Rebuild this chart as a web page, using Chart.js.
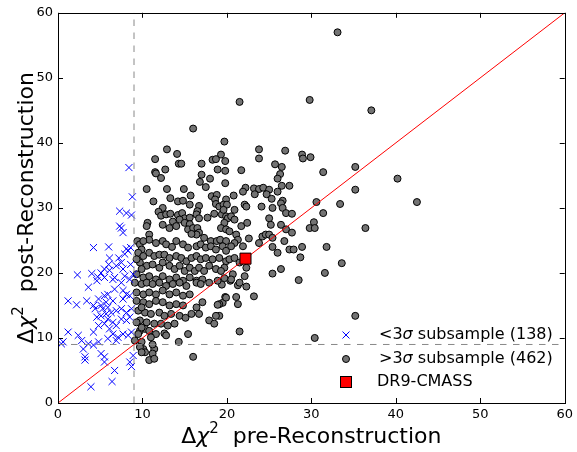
<!DOCTYPE html>
<html>
<head>
<meta charset="utf-8">
<script src="https://cdn.jsdelivr.net/npm/chart.js"></script>
<style>
  html, body { margin: 0; padding: 0; background: #fff; }
</style>
</head>
<body>
<canvas id="myChart" width="577" height="452"></canvas>
<script>
// axis ticks
const axisTicks = [0, 10, 20, 30, 40, 50, 60];
const oneToOne = [0, 60];
const cut = 9;

// <3 sigma subsample (pre, post)
const lowSigma = [
  [8.4,36.2],[8.8,31.7],[7.3,29.5],[8.1,29.2],[8.7,28.9],[7.3,27.2],[7.5,26.9],[7.7,26.2],
  [4.2,23.9],[6.0,24.0],[8.1,23.7],[8.6,23.9],[6.1,22.3],[7.2,22.3],[7.9,22.9],[8.3,23.4],
  [7.5,21.6],[6.0,21.3],[6.9,21.1],[8.6,21.3],[5.5,20.6],[5.1,20.0],[6.1,20.4],[2.3,19.7],
  [4.0,19.9],[4.7,19.4],[6.7,19.3],[7.7,20.6],[7.9,19.5],[8.9,19.8],[8.5,19.0],[4.6,18.8],
  [5.5,19.3],[6.5,19.0],[7.5,18.5],[3.6,17.8],[6.7,17.5],[7.7,17.3],[8.1,16.7],[1.2,15.7],
  [2.2,15.1],[3.4,15.7],[4.2,15.0],[4.8,16.0],[5.5,16.5],[5.9,16.7],[5.7,15.5],[5.1,15.0],
  [6.5,15.7],[7.7,16.0],[8.5,16.5],[4.4,14.5],[5.3,14.5],[5.9,14.7],[6.3,13.9],[6.9,14.2],
  [7.5,14.5],[8.1,13.9],[8.7,14.5],[5.7,13.7],[5.1,13.4],[4.6,13.2],[5.9,12.9],[6.5,12.4],
  [7.5,12.9],[8.1,12.7],[8.5,13.2],[6.9,11.9],[6.1,11.4],[5.5,12.2],[4.8,11.9],[4.2,10.9],
  [6.5,10.6],[7.1,10.1],[7.7,10.6],[8.3,10.4],[8.7,10.9],[6.9,9.6],[5.9,9.9],[1.2,10.9],
  [0.6,9.4],[2.4,10.4],[2.8,9.6],[3.6,9.1],[3.0,8.3],[4.2,8.9],[4.8,9.4],[3.2,7.1],
  [3.2,6.6],[5.1,7.6],[5.5,7.1],[5.5,6.3],[8.9,7.3],[8.5,6.3],[8.7,5.6],[6.7,5.0],
  [6.4,3.3],[3.9,2.5],[0.4,9.1]
];

// >3 sigma subsample (pre, post)
const highSigma = [
  [33.1,57.0],[29.8,46.6],[37.1,45.0],[28.9,38.2],[29.0,37.6],[29.9,37.8],[35.2,36.3],[31.4,35.5],
  [40.2,34.5],[35.2,32.8],[30.6,30.9],[33.4,30.6],[42.5,30.9],[31.4,29.2],[30.3,27.8],[29.8,26.9],
  [30.4,26.9],[36.4,26.9],[28.9,24.0],[31.8,24.0],[28.7,22.4],[33.6,21.5],[28.5,18.9],[31.6,20.0],
  [35.2,13.4],
  [19.4,18.2],[20.4,18.8],[21.3,18.1],[22.3,17.9],[19.8,16.3],[19.5,15.4],[19.1,15.2],[21.1,16.3],
  [21.3,15.2],[23.2,16.4],[19.1,13.4],[21.5,11.0],[30.4,10.0],
  [21.5,46.3],[19.7,40.2],[19.3,38.2],[19.8,37.2],[19.8,35.7],[19.8,33.8],[21.7,35.8],[23.8,39.0],
  [23.8,37.6],[26.9,38.8],[25.7,36.7],[26.5,36.3],[26.3,35.2],[26.0,34.5],[26.5,33.4],[27.4,33.4],
  [22.2,33.1],[21.9,32.5],[23.2,33.0],[23.8,32.9],[24.3,33.1],[25.0,32.8],[23.3,32.1],[24.7,32.1],
  [26.0,32.5],[20.8,31.9],[19.9,31.3],[25.3,31.4],[26.6,31.1],
  [16.0,42.2],[12.9,39.0],[14.1,38.3],[11.5,37.5],[14.3,36.8],[14.6,36.8],[17.0,36.8],[18.3,37.4],
  [18.7,37.5],[12.7,35.9],[11.5,35.5],[11.6,35.3],[12.2,34.6],[18.9,35.9],[17.0,35.1],[16.8,34.0],
  [18.0,34.5],[10.5,32.9],[12.9,32.9],[14.9,32.9],[17.5,33.2],[11.3,31.0],[13.3,31.5],[14.2,31.0],
  [14.8,31.1],[15.7,31.9],[18.2,31.8],[18.8,32.0],[18.6,31.3],
  [15.6,30.5],[16.7,30.3],[16.5,29.5],[18.7,30.6],[19.1,30.2],[19.6,30.5],[20.0,30.5],
  [12.4,30.0],[11.9,29.4],[12.2,28.8],[12.8,29.0],[13.3,29.1],[14.2,28.9],[14.7,29.2],
  [15.0,28.4],[15.6,28.5],[16.4,29.0],[16.7,28.4],[17.7,28.5],[18.5,29.1],[19.4,29.0],[19.6,29.7],
  [19.9,28.7],[10.6,27.7],[10.5,27.2],[13.6,27.9],[14.4,28.2],[15.0,27.7],[15.6,27.5],[12.4,27.4],
  [13.2,26.9],[14.0,27.2],[15.4,26.7],[16.0,26.9],[16.5,26.9],[16.7,26.2],[16.4,25.9],[15.8,26.0],
  [17.3,25.4],[18.1,24.9],[18.8,24.9],[19.2,25.1],[19.9,24.9],[10.8,25.9],[10.8,25.1],[9.4,24.9],
  [9.7,24.4],[10.1,24.9],[11.6,24.6],[12.4,24.9],[12.8,24.4],[13.5,24.0],[14.0,24.9],[14.8,24.4],
  [15.4,23.9],[16.4,24.1],[16.9,24.4],[17.5,23.9],[18.1,24.1],[18.7,23.6],[19.5,24.1],[19.9,23.4],
  [9.9,23.6],[9.5,23.1],[10.1,22.6],[10.8,23.1],[11.4,22.6],[12.0,22.8],[12.6,22.8],[13.2,22.3],
  [14.0,22.6],[14.6,22.3],[15.2,21.8],[15.8,22.3],[16.4,22.6],[16.9,22.1],[17.5,22.3],[18.3,22.1],
  [19.1,22.3],[19.9,21.8],[9.7,21.6],[10.5,21.1],[11.2,21.3],[12.0,20.8],[12.4,21.6],[13.2,21.1],
  [13.8,20.6],[14.4,21.1],[15.0,20.3],[15.6,20.8],[16.2,20.3],[16.7,20.8],[17.3,20.3],[17.9,21.1],
  [18.7,20.6],[19.7,20.8],[9.3,19.8],[10.1,19.3],[10.8,19.5],[11.6,19.0],[12.4,19.5],[13.2,19.0],
  [14.0,19.3],[14.8,18.8],[15.6,19.3],[16.4,18.8],[17.1,19.0],[18.9,18.8],[9.3,22.1],[9.9,20.6],
  [20.9,29.7],[22.1,30.5],[22.3,30.2],[24.1,30.2],[25.4,30.0],[26.4,30.7],[26.6,30.0],[27.0,29.2],
  [27.7,29.1],[20.1,28.4],[20.5,28.7],[20.9,28.2],[19.7,27.7],[19.3,26.9],[19.9,26.7],[20.3,26.4],
  [21.7,27.2],[22.4,27.7],[25.0,28.4],[25.2,27.4],[26.4,27.4],[27.0,26.7],[27.7,26.2],[26.8,24.9],
  [23.8,24.6],[24.2,25.6],[24.6,25.9],[25.0,25.9],[25.4,25.4],[21.1,25.9],[21.3,25.1],[20.9,24.6],
  [20.5,24.1],[21.9,24.1],[22.6,25.3],[25.4,24.0],[26.0,23.1],[27.4,23.6],[27.9,23.6],[20.3,22.1],
  [20.9,22.3],[21.5,21.6],[22.3,20.8],[22.1,19.5],[20.7,19.8],[20.5,19.0],[19.7,19.2],[19.3,20.3],
  [21.5,18.5],[25.4,19.9],[26.4,20.6],
  [9.1,18.5],[9.9,18.3],[10.5,18.5],[11.2,18.3],[12.0,18.5],[12.8,18.0],[13.6,18.3],[14.4,18.5],
  [15.2,18.0],[16.4,18.5],[16.9,18.3],[17.9,18.5],[9.3,17.0],[10.1,16.7],[10.8,17.0],[11.6,16.7],
  [12.4,17.3],[13.2,16.7],[14.0,17.0],[14.8,16.5],[15.6,16.7],[17.1,15.5],[16.4,14.7],[15.8,13.7],
  [16.7,13.7],[18.7,13.4],[18.9,15.1],[19.9,16.2],[17.9,12.7],[18.5,12.2],[15.4,10.6],[14.3,9.4],
  [16.0,7.1],[9.3,15.7],[10.1,15.5],[10.8,15.2],[11.6,15.7],[12.4,15.5],[13.2,15.0],[14.0,15.2],
  [14.8,15.0],[9.5,14.2],[10.3,13.9],[11.0,13.7],[12.0,13.9],[12.6,13.4],[13.4,13.7],[14.4,13.4],
  [15.1,13.1],[9.7,12.7],[10.5,12.4],[11.4,12.2],[12.2,12.2],[13.0,11.9],[13.8,12.2],[12.6,10.7],
  [12.8,10.4],[9.7,11.1],[10.3,11.4],[10.8,11.1],[11.6,10.6],[11.0,10.1],[10.1,8.3],[10.3,7.8],
  [11.4,8.3],[11.2,7.6],[10.8,6.6],[11.4,6.8],[11.2,9.0],[9.1,9.6],
  [9.9,14.7],[9.3,12.4],[9.9,11.6],[9.5,10.6],[9.9,9.4],[9.7,8.6],[9.9,7.8]
];

// DR9-CMASS
const cmass = [[22.2, 22.2]];

const toXY = arr => arr.map(p => ({ x: p[0], y: p[1] }));
const FONT = "'DejaVu Sans', 'Bitstream Vera Sans', sans-serif";

// draw a run of text pieces one after another
function drawRuns(ctx, runs, x, y) {
  let cx = x;
  runs.forEach(r => {
    ctx.font = r.font;
    ctx.fillText(r.text, cx, y + (r.dy || 0));
    cx += ctx.measureText(r.text).width + (r.gap || 0);
  });
  return cx - x;
}
function runsWidth(ctx, runs) {
  let w = 0;
  runs.forEach(r => { ctx.font = r.font; w += ctx.measureText(r.text).width + (r.gap || 0); });
  return w;
}
function labelRuns(word) {
  return [
    { text: "\u0394", font: "22px " + FONT },
    { text: "\u03c7", font: "italic 22px " + FONT },
    { text: "2", font: "15px " + FONT, dy: -10, gap: 14 },
    { text: word, font: "22px " + FONT }
  ];
}

const framePlugin = {
  id: "frame",
  afterDraw(chart) {
    const ctx = chart.ctx;
    const a = chart.chartArea;
    const sx = chart.scales.x, sy = chart.scales.y;
    ctx.save();
    // box
    ctx.strokeStyle = "#000";
    ctx.lineWidth = 1;
    ctx.strokeRect(Math.round(a.left) + 0.5, Math.round(a.top) + 0.5,
      Math.round(a.right - a.left), Math.round(a.bottom - a.top));
    // inward ticks on all sides
    ctx.beginPath();
    axisTicks.forEach(v => {
      const px = Math.round(sx.getPixelForValue(v)) + 0.5;
      ctx.moveTo(px, a.bottom); ctx.lineTo(px, a.bottom - 5);
      ctx.moveTo(px, a.top); ctx.lineTo(px, a.top + 5);
      const py = Math.round(sy.getPixelForValue(v)) + 0.5;
      ctx.moveTo(a.left, py); ctx.lineTo(a.left + 5, py);
      ctx.moveTo(a.right, py); ctx.lineTo(a.right - 5, py);
    });
    ctx.stroke();

    // axis titles
    ctx.fillStyle = "#000";
    ctx.textBaseline = "alphabetic";
    const xr = labelRuns("pre-Reconstruction");
    const xw = runsWidth(ctx, xr);
    drawRuns(ctx, xr, (a.left + a.right) / 2 - xw / 2, 443);
    const yr = labelRuns("post-Reconstruction");
    const yw = runsWidth(ctx, yr);
    ctx.save();
    ctx.translate(33, (a.top + a.bottom) / 2 + yw / 2);
    ctx.rotate(-Math.PI / 2);
    drawRuns(ctx, yr, 0, 0);
    ctx.restore();

    // legend
    ctx.textBaseline = "middle";
    const lx = 346;
    ctx.strokeStyle = "#0000ff";
    ctx.beginPath();
    ctx.moveTo(lx - 3.5, 335 - 3.5); ctx.lineTo(lx + 3.5, 335 + 3.5);
    ctx.moveTo(lx - 3.5, 335 + 3.5); ctx.lineTo(lx + 3.5, 335 - 3.5);
    ctx.stroke();
    ctx.fillStyle = "#737373";
    ctx.strokeStyle = "#000";
    ctx.beginPath();
    ctx.arc(lx, 359, 3.5, 0, Math.PI * 2);
    ctx.fill(); ctx.stroke();
    ctx.fillStyle = "#ff0000";
    ctx.fillRect(lx - 5.5, 382 - 5.5, 11, 11);
    ctx.strokeRect(lx - 5.5, 382 - 5.5, 11, 11);
    ctx.fillStyle = "#000";
    const f16 = "16px " + FONT;
    drawRuns(ctx, [{ text: "<3", font: f16 }, { text: "\u03c3", font: "italic 16px " + FONT },
      { text: " subsample (138)", font: f16 }], 379, 335);
    drawRuns(ctx, [{ text: ">3", font: f16 }, { text: "\u03c3", font: "italic 16px " + FONT },
      { text: " subsample (462)", font: f16 }], 379, 359);
    drawRuns(ctx, [{ text: "DR9-CMASS", font: f16 }], 377, 382);
    ctx.restore();
  }
};

const tickFont = { family: FONT, size: 13 };

new Chart(document.getElementById("myChart"), {
  type: "scatter",
  data: {
    datasets: [
      {
        label: "DR9-CMASS",
        data: toXY(cmass),
        pointStyle: "rect",
        pointRadius: 7.8,
        backgroundColor: "#ff0000",
        borderColor: "#000",
        borderWidth: 1,
      },
      {
        type: "line",
        label: "1:1",
        data: oneToOne.map(v => ({ x: v, y: v })),
        borderColor: "#ff0000",
        borderWidth: 1,
        pointRadius: 0,
        fill: false,
      },
      {
        type: "line",
        label: "x cut",
        data: [{ x: cut, y: axisTicks[0] }, { x: cut, y: axisTicks[axisTicks.length - 1] }],
        borderColor: "#888",
        borderWidth: 1,
        borderDash: [6.5, 6.5],
        pointRadius: 0,
        fill: false,
      },
      {
        type: "line",
        label: "y cut",
        data: [{ x: axisTicks[0], y: cut }, { x: axisTicks[axisTicks.length - 1], y: cut }],
        borderColor: "#888",
        borderWidth: 1,
        borderDash: [6.5, 6.5],
        pointRadius: 0,
        fill: false,
      },
      {
        label: "<3 sigma subsample (138)",
        data: toXY(lowSigma),
        pointStyle: "crossRot",
        pointRadius: 5,
        borderColor: "#0000ff",
        borderWidth: 1,
      },
      {
        label: ">3 sigma subsample (462)",
        data: toXY(highSigma),
        pointStyle: "circle",
        pointRadius: 3.5,
        backgroundColor: "#737373",
        borderColor: "#000",
        borderWidth: 1,
      },
    ],
  },
  options: {
    responsive: false,
    animation: false,
    devicePixelRatio: 1,
    layout: { padding: { left: 0, right: 10, top: 10, bottom: 0 } },
    plugins: { legend: { display: false }, tooltip: { enabled: false } },
    scales: {
      x: {
        type: "linear",
        min: 0,
        max: 60,
        afterBuildTicks: s => { s.ticks = axisTicks.map(v => ({ value: v })); },
        afterFit: s => { s.height = 49; },
        grid: { display: false, drawTicks: false },
        border: { display: false },
        ticks: { font: tickFont, color: "#000", padding: 4, maxRotation: 0 },
      },
      y: {
        type: "linear",
        min: 0,
        max: 60,
        afterBuildTicks: s => { s.ticks = axisTicks.map(v => ({ value: v })); },
        afterFit: s => { s.width = 58; },
        grid: { display: false, drawTicks: false },
        border: { display: false },
        ticks: { font: tickFont, color: "#000", padding: 5 },
      },
    },
  },
  plugins: [framePlugin],
});
</script>
</body>
</html>
